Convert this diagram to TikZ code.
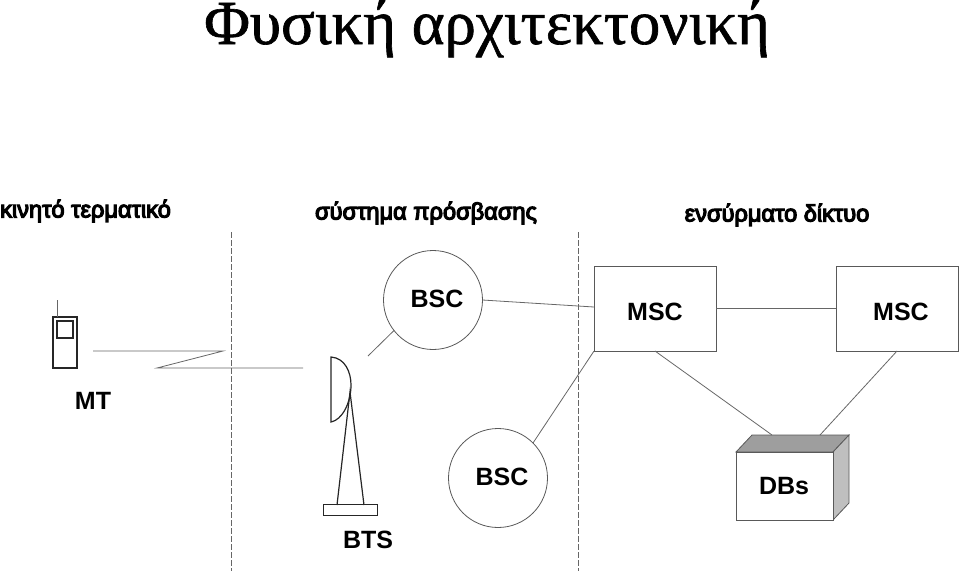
\documentclass[tikz,border=0pt]{standalone}
\usepackage{fontspec}
\setmainfont{Liberation Sans}
\newfontfamily\titlefont[FakeBold=1]{Liberation Serif}
\newfontfamily\thickfont[FakeBold=5]{Liberation Sans}
\begin{document}
\begin{tikzpicture}[x=1pt,y=-1pt,
  thinline/.style={draw=black!60,line width=0.8pt},
  boxline/.style={draw=black!65,line width=0.8pt},
  heavy/.style={draw=black!85,line width=1.2pt},
  lab/.style={inner sep=0pt,font=\fontsize{25}{30}\selectfont\bfseries,text=black},
  head/.style={inner sep=0pt,font=\thickfont\fontsize{23.6}{28}\selectfont,text=black},
  region/.style={draw=black!60,line width=0.6pt,dash pattern=on 6pt off 2pt}]
\useasboundingbox (0,0) rectangle (960,571);
\node[inner sep=0pt,anchor=base,font=\titlefont\fontsize{62.7}{66}\selectfont] (title) at (487,44) {Φυσική αρχιτεκτονική};
\node[head,anchor=west] (h1) at (0,211) {κινητό τερματικό};
\node[head] (h2) at (426,213) {σύστημα πρόσβασης};
\node[head] (h3) at (777,215) {ενσύρματο δίκτυο};
% dividers
\coordinate (d1t) at (231,232); \coordinate (d1b) at (231,571);
\coordinate (d2t) at (578,232); \coordinate (d2b) at (578,571);
\draw[region] (d1t) -- (d1b);
\draw[region] (d2t) -- (d2b);
% mobile
\node[heavy,minimum width=24pt,minimum height=51pt,inner sep=0pt,outer sep=0pt] (phone) at (65,342.5) {};
\node[heavy,minimum width=16pt,minimum height=17pt,inner sep=0pt,outer sep=0pt] (screen) at (65,329.5) {};
\coordinate (ant) at (57,300);
\draw[thinline] (ant) -- (ant|-phone.north);
\node[lab] (mt) at (93,401) {MT};
% radio link
\coordinate (r1) at (93,351); \coordinate (r2) at (223,351);
\coordinate (r3) at (157,368); \coordinate (r4) at (303,368);
\draw[thinline] (r1) -- (r2) -- (r3) -- (r4);
% BSC
\node[circle,boxline,minimum size=99pt,inner sep=0pt,outer sep=0pt] (bsc1) at (433,300) {};
\node[lab] (bsc1t) at (437,299) {BSC};
\node[circle,boxline,minimum size=99pt,inner sep=0pt,outer sep=0pt] (bsc2) at (498,478) {};
\node[lab] (bsc2t) at (502,477) {BSC};
% MSC
\node[rectangle,boxline,minimum width=122pt,minimum height=85pt,inner sep=0pt,outer sep=0pt] (msc1) at (655,308.5) {};
\node[lab] (msc1t) at (655,312) {MSC};
\node[rectangle,boxline,minimum width=122pt,minimum height=85pt,inner sep=0pt,outer sep=0pt] (msc2) at (897,308.5) {};
\node[lab] (msc2t) at (901,312) {MSC};
% DB box
\draw[boxline,fill=black!38] (736,452) -- (752,435) -- (849,435) -- (833,452) -- cycle;
\draw[boxline,fill=black!25] (833,452) -- (849,435) -- (849,503) -- (833,520) -- cycle;
\node[rectangle,boxline,fill=white,minimum width=97pt,minimum height=68pt,inner sep=0pt,outer sep=0pt] (db) at (784.5,486) {};
\node[lab] (dbt) at (784,486) {DBs};
\coordinate (dbl) at (772,435); \coordinate (dbr) at (820,435);
% connectors
\coordinate (w1) at (368,356);
\coordinate (m1l) at (594,307);
\draw[thinline] (bsc1.218) -- (w1);
\draw[thinline] (bsc1.east) -- (m1l);
\draw[thinline] (bsc2.45) -- (msc1.south west);
\draw[thinline] (msc1.east) -- (msc2.west);
\draw[thinline] (msc1.south) -- (dbl);
\draw[thinline] (msc2.south) -- (dbr);
% BTS
\coordinate (a1) at (331,357); \coordinate (a2) at (331,422);
\draw[heavy] (a1) .. controls (345,358) and (351,372) .. (351,385) .. controls (351,403) and (342,420) .. (a2) -- cycle;
\coordinate (m1) at (350,392);
\coordinate (f1) at (337,505); \coordinate (f2) at (364,505);
\draw[heavy] (f1) -- (m1) -- (f2);
\node[rectangle,heavy,minimum width=54pt,minimum height=11pt,inner sep=0pt,outer sep=0pt] (base) at (350.5,510) {};
\node[lab] (bts) at (368,540) {BTS};
\end{tikzpicture}
\end{document}
